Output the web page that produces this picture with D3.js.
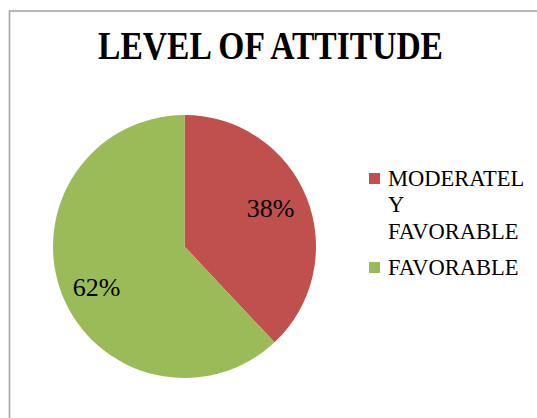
<!DOCTYPE html>
<html>
<head>
<meta charset="utf-8">
<script src="https://cdn.jsdelivr.net/npm/d3@7"></script>
<style>
    html, body { margin: 0; padding: 0; background: #fff; }
</style>
</head>
<body>
<div id="chart"></div>
<script>
const title = 'LEVEL OF ATTITUDE';
const categories = ['MODERATELY FAVORABLE', 'FAVORABLE'];
const legendLines = [['MODERATEL', 'Y', 'FAVORABLE'], ['FAVORABLE']];
const values = [38, 62];
const colors = ['#C0504D', '#9BBB59'];

const FONT = "'Liberation Serif', 'Times New Roman', serif";
const width = 537, height = 418;
const cx = 184.5, cy = 246.5, radius = 131.5;

const svg = d3.select('#chart').append('svg')
    .attr('width', width)
    .attr('height', height)
    .style('display', 'block');

// chart area border (runs off the right and bottom edges)
svg.append('rect')
    .attr('x', 9.5).attr('y', 11)
    .attr('width', 600).attr('height', 500)
    .attr('fill', '#fff')
    .attr('stroke', '#a6a6a6')
    .attr('stroke-width', 1.6);

svg.append('text')
    .attr('x', 270.5).attr('y', 58.5)
    .attr('text-anchor', 'middle')
    .attr('font-family', FONT)
    .attr('font-size', 40)
    .attr('font-weight', 'bold')
    .attr('textLength', 345)
    .attr('lengthAdjust', 'spacingAndGlyphs')
    .text(title);

const data = categories.map((c, i) => ({ name: c, value: values[i], color: colors[i] }));
const pie = d3.pie().sort(null).value(d => d.value);
const arc = d3.arc().innerRadius(0).outerRadius(radius);
const arcs = pie(data);

const g_pie = svg.append('g').attr('transform', `translate(${cx},${cy})`);
g_pie.selectAll('path')
    .data(arcs)
    .enter().append('path')
    .attr('d', arc)
    .attr('fill', d => d.data.color);

// percentage labels
const total = d3.sum(values);
const labelPos = [[86, -29.5], [-88, 49.5]];
g_pie.selectAll('text.pct')
    .data(arcs)
    .enter().append('text')
    .attr('class', 'pct')
    .attr('x', (d, i) => labelPos[i][0])
    .attr('y', (d, i) => labelPos[i][1])
    .attr('text-anchor', 'middle')
    .attr('font-family', FONT)
    .attr('font-size', 26)
    .attr('fill', '#000')
    .text(d => Math.round(d.data.value / total * 100) + '%');

// legend
const legendX = 369, legendTextX = 388;
const legendBase = [185.5, 274.5];
const lineH = 26.5;
const g_legend = svg.append('g').attr('class', 'legend');
data.forEach((d, i) => {
    g_legend.append('rect')
        .attr('x', legendX).attr('y', legendBase[i] - 12.5)
        .attr('width', 11).attr('height', 11)
        .attr('fill', d.color);
    const t = g_legend.append('text')
        .attr('x', legendTextX).attr('y', legendBase[i])
        .attr('font-family', FONT)
        .attr('font-size', 22.5)
        .attr('fill', '#000');
    legendLines[i].forEach((line, j) => {
        t.append('tspan')
            .attr('x', legendTextX)
            .attr('y', legendBase[i] + j * lineH)
            .text(line);
    });
});
</script>
</body>
</html>
